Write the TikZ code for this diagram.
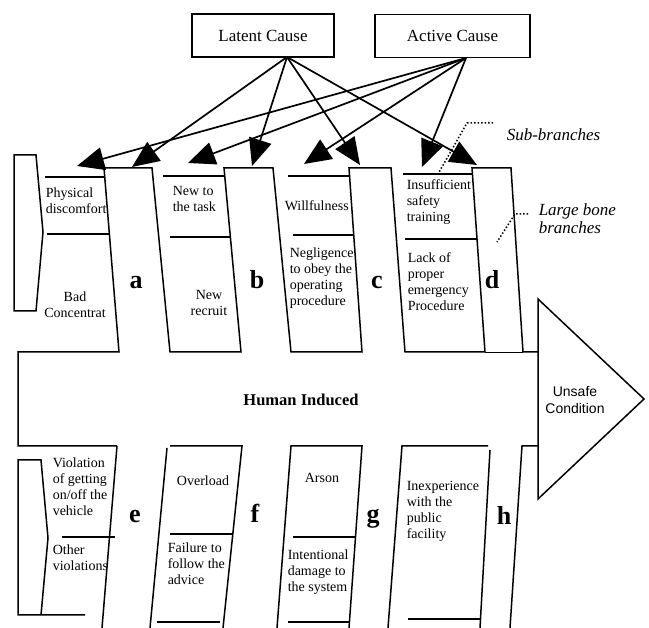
\documentclass[tikz,border=0pt]{standalone}
\usepackage{fontspec}
\setmainfont{Liberation Serif}
\setsansfont{Liberation Sans}
\usetikzlibrary{arrows.meta}
\newcommand{\mlL}[1]{\begin{tabular}[t]{@{}l@{}}#1\end{tabular}}
\newcommand{\mlC}[1]{\begin{tabular}[t]{@{}c@{}}#1\end{tabular}}
\begin{document}
\begin{tikzpicture}[x=1pt,y=-1pt,line width=1.5pt,line join=miter]
\tikzset{
  lbl/.style={inner sep=0pt,font=\fontsize{14}{16}\selectfont,anchor=base west},
  lblc/.style={lbl,anchor=base},
  bonelet/.style={inner sep=0pt,font=\fontsize{26}{26}\selectfont\bfseries,anchor=base},
  causebox/.style={draw,line width=1.5pt,minimum height=43pt,inner sep=0pt,font=\fontsize{17}{19}\selectfont},
  note/.style={inner sep=0pt,font=\fontsize{17}{19}\selectfont\itshape},
  bonefill/.style={fill=white,draw=none},
  causearrow/.style={line width=1.7pt,-{Triangle[length=27pt,width=23pt]}},
  pointer/.style={dotted,line width=1.5pt}
}
\useasboundingbox (0,0) rectangle (649,628);

% ---------- cause boxes ----------
\node[causebox,minimum width=142pt] (latent) at (263,35.5) {Latent Cause};
\node[causebox,minimum width=155pt] (active) at (452.5,36) {Active Cause};

% ---------- sub-branch texts (upper) ----------
\node[lbl]  (t1) at (45,198) {\mlL{Physical\\discomfort}};
\node[lblc] (t2) at (75,302) {\mlC{Bad\\Concentrat}};
\node[lbl]  (t3) at (172,196) {\mlL{New to\\the task}};
\node[lblc] (t4) at (209,300) {\mlC{New\\recruit}};
\node[lbl]  (t5) at (284,211) {Willfulness};
\node[lbl]  (t6) at (289,258) {\mlL{Negligence\\to obey the\\operating\\procedure}};
\node[lbl]  (t7) at (406,190) {\mlL{Insufficient\\safety\\training}};
\node[lbl]  (t8) at (407,263) {\mlL{Lack of\\proper\\emergency\\Procedure}};
% ---------- sub-branch texts (lower) ----------
\node[lbl]  (t9)  at (52,468) {\mlL{Violation\\of getting\\on/off the\\vehicle}};
\node[lbl]  (t10) at (52,555) {\mlL{Other\\violations}};
\node[lblc] (t11) at (203,486) {Overload};
\node[lbl]  (t12) at (167,553) {\mlL{Failure to\\follow the\\advice}};
\node[lblc] (t13) at (322,483) {Arson};
\node[lbl]  (t14) at (287,560) {\mlL{Intentional\\damage to\\the system}};
\node[lbl]  (t15) at (406,491) {\mlL{Inexperience\\with the\\public\\facility}};

% ---------- bone fills ----------
\fill[bonefill] (104,168)--(152,168)--(170,352)--(119,352)--cycle;
\fill[bonefill] (224,168)--(273,168)--(291,352)--(241,352)--cycle;
\fill[bonefill] (349,168)--(391,168)--(405,352)--(362,352)--cycle;
\fill[bonefill] (472,168)--(511,168)--(523,352)--(485,352)--cycle;
\fill[bonefill] (117,446)--(167,448)--(150,628)--(102,628)--cycle;
\fill[bonefill] (362,446)--(402,446)--(388,628)--(349,628)--cycle;

% ---------- tails ----------
\draw (14,155)--(36,155)--(43,232)--(36,311)--(14,311)--cycle;
\draw (85,615)--(18,615)--(18,460)--(41,460)--(48,538)--(41,615);

% ---------- upper sub-branch lines ----------
\draw (45,177)--(105,177);
\draw (47,234)--(109,234);
\draw (163,176)--(225,176);
\draw (170,237)--(230,237);
\draw (288,176)--(350,176);
\draw (293,235)--(354,235);
\draw (403,174)--(472,174);
\draw (405,239)--(477,239);

% ---------- spine and upper bones ----------
\draw (117,446)--(18,446)--(18,352)--(119,352)--(104,168)--(152,168)--(170,352)--(241,352)
      --(224,168)--(273,168)--(291,352)--(362,352)--(349,168)--(391,168)--(405,352)
      --(485,352)--(472,168)--(511,168)--(523,352)--(538,352);
\draw[line width=0.6pt] (485,352)--(523,352);
\draw (117,446)--(102,628);

% ---------- lower bones ----------
\draw (167,448)--(150,628);
\draw (170,446)--(242,446)--(223,628);
\draw (277,628)--(291,446)--(362,446)--(349,628);
\draw (388,628)--(402,446)--(488,446);
\draw (490,450)--(480,628);
\draw (510,628)--(522,446)--(538,446);

% ---------- lower sub-branch lines ----------
\draw (62,537)--(115,537);
\draw (170,534)--(232,534);
\draw (157,622)--(220,622);
\draw (293,537)--(355,537);
\draw (288,622)--(349,622);
\draw (408,619)--(480,619);

% ---------- head ----------
\draw (538,299)--(644,399)--(538,499)--cycle;
\node[inner sep=0pt,align=center,font=\sffamily\fontsize{14}{17}\selectfont] (head) at (575,400) {Unsafe\\Condition};
\node[inner sep=0pt,font=\fontsize{16.5}{18}\selectfont\bfseries] (spine) at (301,400) {Human Induced};

% ---------- bone letters ----------
\node[bonelet] (la) at (136,289) {a};
\node[bonelet] (lb) at (257,289) {b};
\node[bonelet] (lc) at (377,289) {c};
\node[bonelet] (ld) at (492,289) {d};
\node[bonelet] (le) at (135,523) {e};
\node[bonelet] (lf) at (255,523) {f};
\node[bonelet] (lg) at (373,523) {g};
\node[bonelet] (lh) at (504,525) {h};

% ---------- notes ----------
\node[note,anchor=base west] (sub) at (506,141) {Sub-branches};
\node[note,anchor=base west] (large) at (538,216) {\begin{tabular}[t]{@{}l@{}}Large bone\\[-1pt]branches\end{tabular}};
\coordinate (s1) at (493,123); \coordinate (s2) at (467,123); \coordinate (s3) at (438,174);
\draw[pointer] (s1)--(s2)--(s3);
\coordinate (g1) at (528,214); \coordinate (g2) at (515,214); \coordinate (g3) at (497,242);
\draw[pointer] (g1)--(g2)--(g3);

% ---------- arrows ----------
\coordinate (Ls) at (287,57);
\coordinate (As) at (466,58);
\coordinate (La) at (132,167);
\coordinate (Lb) at (252,166);
\coordinate (Lc) at (360,165);
\coordinate (Ld) at (477,165);
\coordinate (Aa) at (77,166);
\coordinate (Ab) at (188,163);
\coordinate (Ac) at (304,164);
\coordinate (Ad) at (422,167);
\foreach \t in {La,Lb,Lc,Ld} \draw[causearrow] (Ls)--(\t);
\foreach \t in {Aa,Ab,Ac,Ad} \draw[causearrow] (As)--(\t);
\end{tikzpicture}
\end{document}
